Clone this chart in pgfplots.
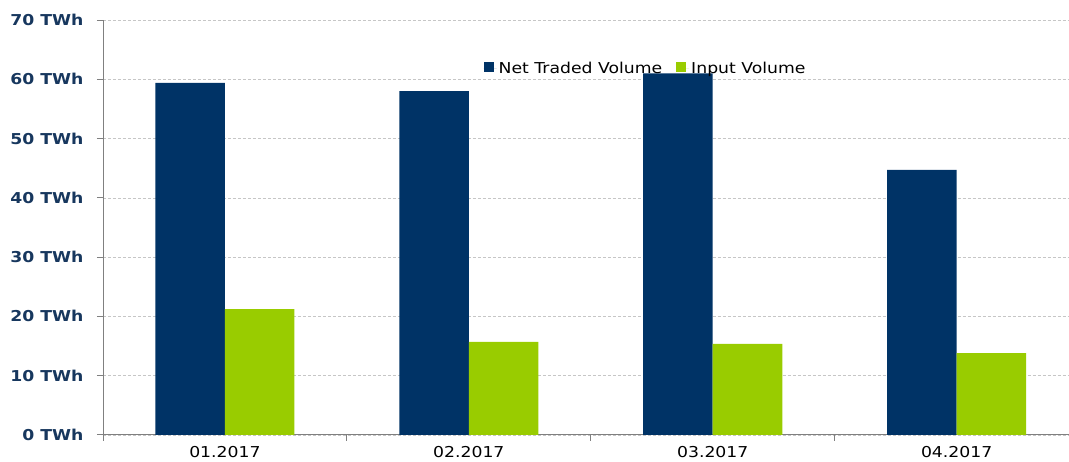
\documentclass[border=0pt]{standalone}
\usepackage{fontspec}
\setmainfont{DejaVu Sans}[FakeStretch=1.15]
\usepackage{pgfplots}
\pgfplotsset{compat=1.18}
\definecolor{netblue}{RGB}{0,51,102}
\definecolor{inputgreen}{RGB}{153,204,0}
\definecolor{ylab}{RGB}{23,55,94}
\definecolor{axgray}{RGB}{128,128,128}
\begin{document}
\begin{tikzpicture}
\begin{axis}[
  at={(0,0)}, anchor=south west,
  scale only axis, width=966pt, height=415pt,
  xmin=-0.5, xmax=3.459, ymin=0, ymax=70,
  axis x line*=bottom, axis y line*=left,
  axis line style={axgray, line width=0.8pt},
  ybar=0pt, bar width=0.285,
  xtick={0,1,2,3},
  xticklabels={01.2017,02.2017,03.2017,04.2017},
  x tick style={draw=none},
  extra x ticks={-0.5,0.5,1.5,2.5},
  extra x tick labels={},
  extra x tick style={x tick style={draw=axgray, line width=0.8pt}, major tick length=6pt, tick align=outside},
  xticklabel style={font=\fontsize{15}{18}\selectfont, yshift=-2pt},
  ytick={0,10,...,70},
  yticklabels={0 TWh,10 TWh,20 TWh,30 TWh,40 TWh,50 TWh,60 TWh,70 TWh},
  yticklabel style={font=\fontsize{15}{18}\selectfont\bfseries, text=ylab, xshift=-10pt},
  y tick style={draw=axgray, line width=0.8pt},
  tick align=outside, major tick length=6pt,
  ymajorgrids, grid style={densely dashed, gray!45, line width=0.5pt},
  legend style={at={(0.391,0.884)}, anchor=west, draw=none, fill=none,
    font=\fontsize{15}{18}\selectfont, legend columns=2,
    /tikz/every even column/.append style={column sep=12pt}},
  legend image code/.code={\fill[#1] (0pt,-4pt) rectangle (10pt,6pt); \path (0pt,0pt) -- (13pt,0pt);},
]
\addplot[fill=netblue, draw=none] coordinates {(0,59.4) (1,58.0) (2,61.0) (3,44.7)};
\addplot[fill=inputgreen, draw=none] coordinates {(0,21.2) (1,15.7) (2,15.35) (3,13.8)};
\legend{Net Traded Volume, Input Volume}
\end{axis}
\path[use as bounding box] (-103pt,-26pt) rectangle (966pt,435pt);
\end{tikzpicture}
\end{document}
